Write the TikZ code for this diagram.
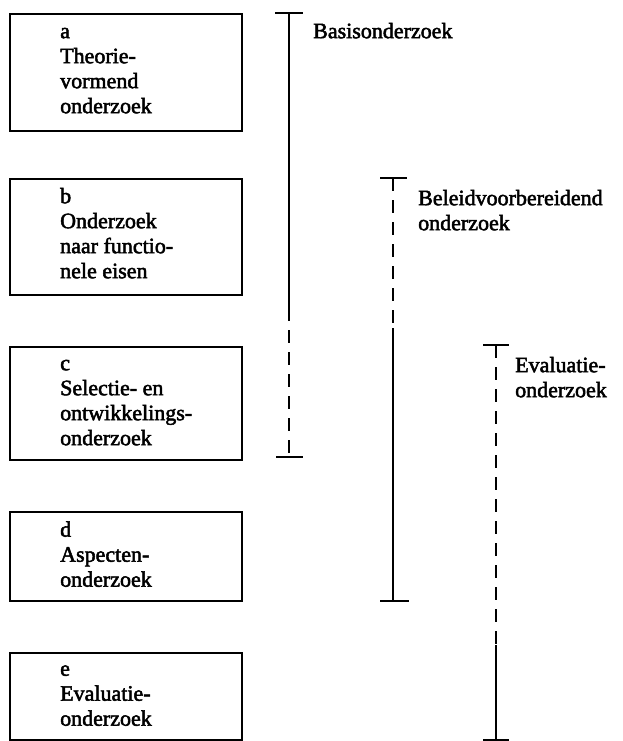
\documentclass[tikz,border=0pt]{standalone}
\usepackage{fontspec}
\setmainfont[FakeBold=2.2]{Liberation Serif}
\begin{document}
\begin{tikzpicture}[x=1pt,y=-1pt,
  boxshape/.style={draw=black,line width=1.8pt,rectangle,inner sep=0pt,anchor=north west},
  boxtext/.style={anchor=north west,inner sep=0pt,align=left,font=\fontsize{22}{25}\selectfont},
  label/.style={anchor=north west,inner sep=0pt,align=left,font=\fontsize{22}{25}\selectfont},
  bar/.style={line width=1.8pt,black},
  dashbar/.style={line width=1.8pt,black,dash pattern=on 13pt off 9pt}]
\useasboundingbox[fill=white] (0,0) rectangle (622,741);
% boxes
\node[boxshape,minimum width=232pt,minimum height=117pt] (boxa) at (9,13) {};
\node[boxshape,minimum width=232pt,minimum height=116pt] (boxb) at (9,178) {};
\node[boxshape,minimum width=232pt,minimum height=113pt] (boxc) at (9,346) {};
\node[boxshape,minimum width=232pt,minimum height=89pt] (boxd) at (9,511) {};
\node[boxshape,minimum width=232pt,minimum height=87pt] (boxe) at (9,652) {};
% box texts
\node[boxtext] (ta) at ([shift={(51,7.5)}]boxa.north west) {\strut a\\Theorie-\\vormend\\onderzoek};
\node[boxtext] (tb) at ([shift={(51,7.5)}]boxb.north west) {\strut b\\Onderzoek\\naar functio-\\nele eisen};
\node[boxtext] (tc) at ([shift={(51,6.5)}]boxc.north west) {\strut c\\Selectie- en\\ontwikkelings-\\onderzoek};
\node[boxtext] (td) at ([shift={(51,8)}]boxd.north west) {\strut d\\Aspecten-\\onderzoek};
\node[boxtext] (te) at ([shift={(51,6)}]boxe.north west) {\strut e\\Evaluatie-\\onderzoek};
% bar coordinates
\coordinate (basTop) at (289,13);
\coordinate (basMid) at (289,308);
\coordinate (basBot) at (289,457);
\coordinate (belTop) at (393,178);
\coordinate (belMid) at (393,328);
\coordinate (belBot) at (393,601);
\coordinate (evTop) at (496,345);
\coordinate (evMid) at (496,645);
\coordinate (evBot) at (496,740);
% Basisonderzoek
\draw[bar] (basTop) -- (basMid);
\draw[dashbar] (basMid) -- (basBot);
\draw[bar] ([xshift=-14pt]basTop) -- ([xshift=14pt]basTop);
\draw[bar] ([xshift=-13pt]basBot) -- ([xshift=14pt]basBot);
% Beleidvoorbereidend
\draw[dashbar] (belTop) -- (belMid);
\draw[bar] (belMid) -- (belBot);
\draw[bar] ([xshift=-13pt]belTop) -- ([xshift=14pt]belTop);
\draw[bar] ([xshift=-13pt]belBot) -- ([xshift=16pt]belBot);
% Evaluatie
\draw[dashbar] (evTop) -- (evMid);
\draw[bar] (evMid) -- (evBot);
\draw[bar] ([xshift=-13pt]evTop) -- ([xshift=13pt]evTop);
\draw[bar] ([xshift=-13pt]evBot) -- ([xshift=13pt]evBot);
% labels
\node[label] (lbas) at (313,20.5) {\strut Basisonderzoek};
\node[label] (lbel) at (418,187.5) {\strut Beleidvoorbereidend\\onderzoek};
\node[label] (lev) at (515,354.5) {\strut Evaluatie-\\onderzoek};
\end{tikzpicture}
\end{document}
